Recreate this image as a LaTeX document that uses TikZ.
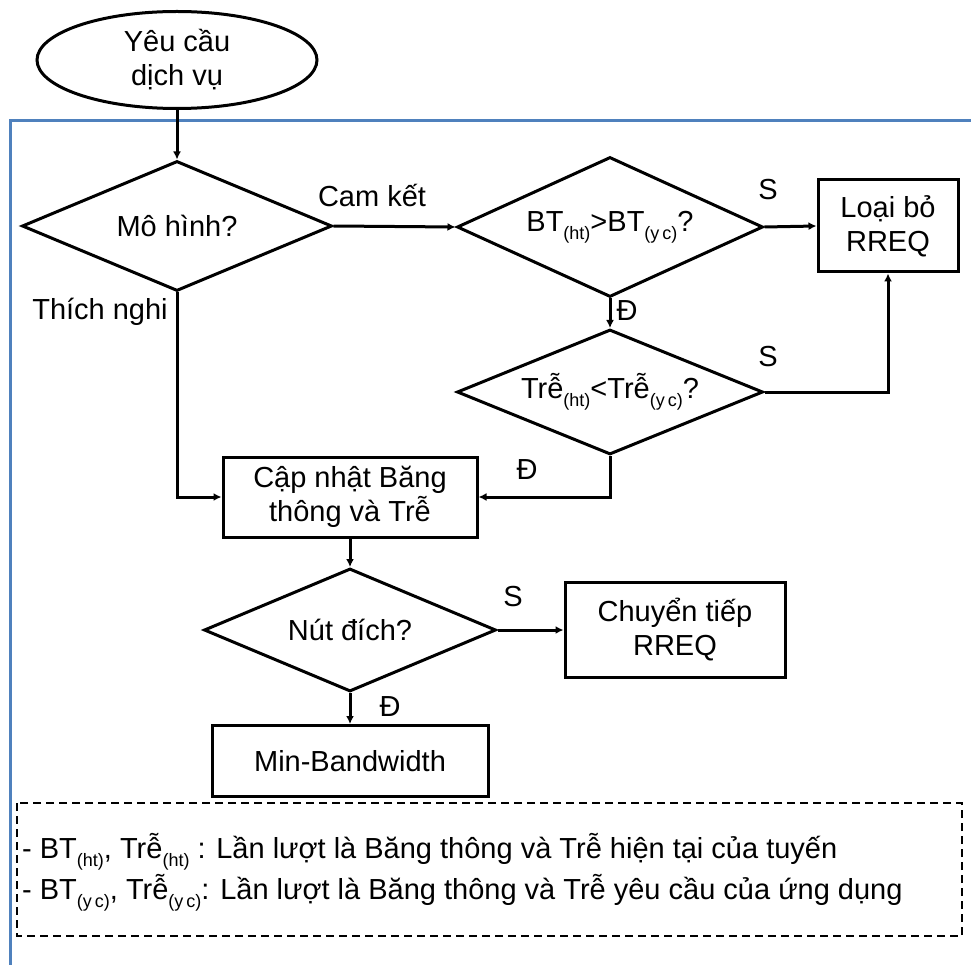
\documentclass[tikz,border=0pt]{standalone}
\usepackage{fontspec}
\setmainfont{Liberation Sans}
\usetikzlibrary{shapes.geometric,arrows.meta}
% subscript used in the conditions and the legend
\newcommand\sbs[1]{\raisebox{-0.28em}{\fontsize{18}{18}\selectfont #1}}
\definecolor{framebl}{RGB}{79,129,189}

\begin{document}
\begin{tikzpicture}[x=1pt,y=-1pt,
  every node/.style={font=\fontsize{29}{34}\selectfont, text=black},
  flow/.style={line width=3pt, -{Latex[length=8pt,width=8pt]}},
  box/.style={draw, line width=3pt, rectangle, align=center, inner sep=0pt},
  decision/.style={draw, line width=3pt, diamond, aspect=2.4, inner sep=0pt, align=center},
  terminal/.style={draw, line width=3pt, ellipse, inner sep=0pt, align=center},
  lbl/.style={inner sep=0pt}
]
\useasboundingbox (0,0) rectangle (971,965);

% outer blue frame (only top and left edges fall inside)
\draw[framebl, line width=3pt] (971,121) -- (10,121) -- (10,965);

% nodes
\node[terminal, minimum width=280, minimum height=97] (start) at (177,60) {Yêu cầu\\dịch vụ};
\node[decision, minimum width=310, minimum height=130] (model) at (177,226) {Mô hình?};
\node[decision, minimum width=306, minimum height=140] (bw) at (610,227) {BT\sbs{(ht)}>BT\sbs{(y\,c)}?};
\node[box, minimum width=140, minimum height=92] (drop) at (888,226) {Loại bỏ\\RREQ};
\node[decision, minimum width=306, minimum height=125] (delay) at (610,392) {Trễ\sbs{(ht)}<Trễ\sbs{(y\,c)}?};
\node[box, minimum width=254, minimum height=80] (upd) at (350,497) {Cập nhật Băng\\thông và Trễ};
\node[decision, minimum width=292, minimum height=123] (dest) at (350,630) {Nút đích?};
\node[box, minimum width=220, minimum height=95] (fwd) at (675,630) {Chuyển tiếp\\RREQ};
\node[box, minimum width=276, minimum height=71] (minbw) at (350,761) {Min-Bandwidth};

% connectors
\draw[flow] (start) -- (model);
\draw[flow] (model.east) -- (bw.west);
\draw[flow] (bw.east) -- (drop.west);
\draw[flow] (bw.south) -- (delay.north);
\draw[flow] (delay.east) -| (drop.south);
\draw[flow] (model.south) |- (upd.west);
\draw[flow] (delay.south) |- (upd.east);
\draw[flow] (upd.south) -- (dest.north);
\draw[flow] (dest.east) -- (fwd.west);
\draw[flow] (dest.south) -- (minbw.north);

% branch labels
\node[lbl] (lcam) at (372,195) {Cam kết};
\node[lbl] (ls1) at (768,190) {S};
\node[lbl] (ld1) at (627,311) {Đ};
\node[lbl] (lthich) at (100,312) {Thích nghi};
\node[lbl] (ls2) at (768,357) {S};
\node[lbl] (ld2) at (527,470) {Đ};
\node[lbl] (ls3) at (513,597) {S};
\node[lbl] (ld3) at (390,707) {Đ};

% legend
\draw[line width=1.4pt, dash pattern=on 8pt off 5pt] (17,803) rectangle (962,936);
\node[lbl, anchor=west] (leg1) at (22,852) {- BT\sbs{(ht)}, Trễ\sbs{(ht)} : Lần lượt là Băng thông và Trễ hiện tại của tuyến};
\node[lbl, anchor=west] (leg2) at (22,893) {- BT\sbs{(y\,c)}, Trễ\sbs{(y\,c)}: Lần lượt là Băng thông và Trễ yêu cầu của ứng dụng};
\end{tikzpicture}
\end{document}
